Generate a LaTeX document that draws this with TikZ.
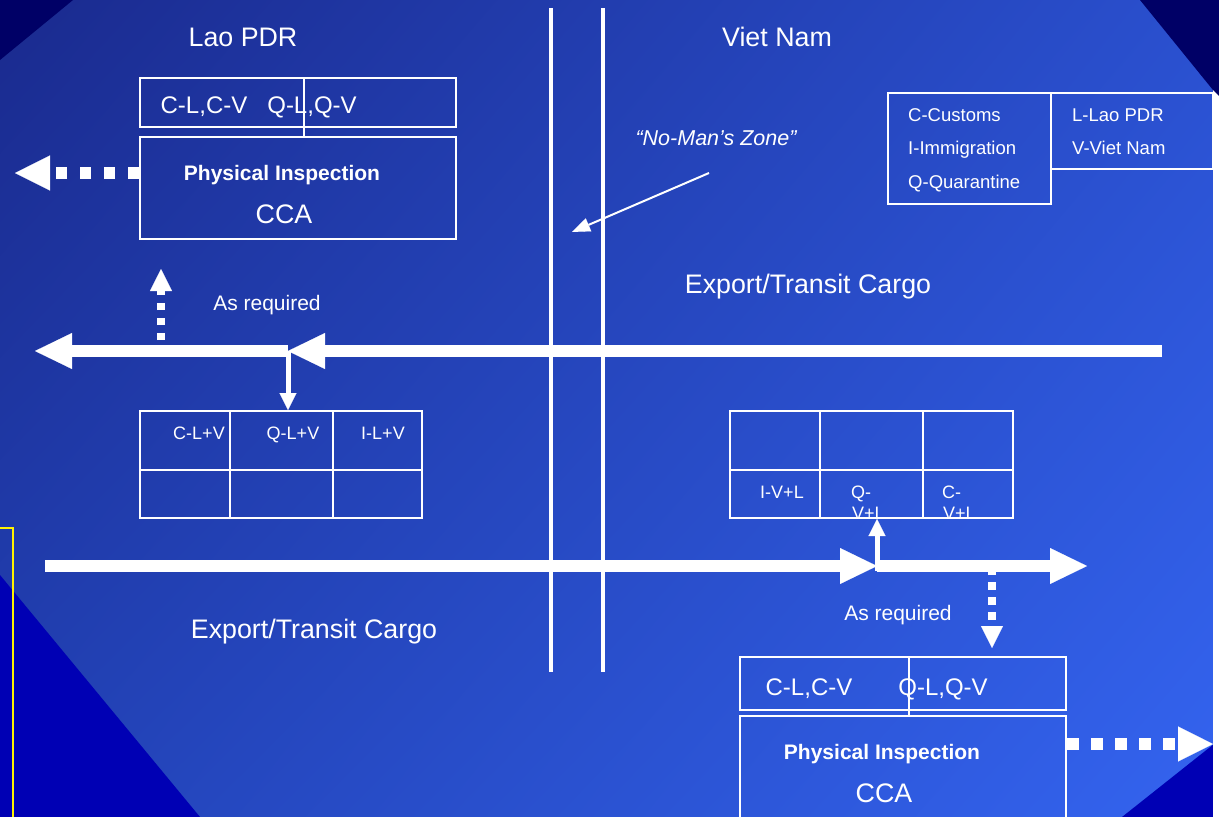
\documentclass[tikz,border=0pt]{standalone}
\usepackage{fontspec}
\setmainfont{Liberation Sans}
\usetikzlibrary{arrows.meta,shadings}
\definecolor{bgTL}{HTML}{1A2A8E}
\definecolor{bgTR}{HTML}{2A50CF}
\definecolor{bgBL}{HTML}{2242B6}
\definecolor{bgBR}{HTML}{3464F0}
\definecolor{navy}{HTML}{000066}
\definecolor{royal}{HTML}{0000B4}
\tikzset{
  box/.style={draw=white, line width=2pt, inner sep=0pt},
  txt/.style={text=white, inner sep=0pt, anchor=base},
  fbig/.style={font=\fontsize{26.8}{30}\selectfont},
  fmid/.style={font=\fontsize{24}{28}\selectfont},
  fbold/.style={font=\fontsize{21}{25}\selectfont\bfseries},
  freq/.style={font=\fontsize{21}{25}\selectfont},
  fsmall/.style={font=\fontsize{18}{21}\selectfont},
  fleg/.style={font=\fontsize{18.5}{21}\selectfont},
  bigbar/.style={draw=white, line width=12pt, line cap=butt,
    -{Triangle[length=37pt,width=36pt,line width=0.1pt]}},
  dotbig/.style={draw=white, line width=12pt, line cap=butt, dash pattern=on 11pt off 13pt,
    -{Triangle[length=35pt,width=35pt,line width=0.1pt]}},
  dotsmall/.style={draw=white, line width=8pt, line cap=butt, dash pattern=on 7.5pt off 7.5pt,
    -{Triangle[length=22pt,width=22pt,line width=0.1pt]}},
  thinarrow/.style={draw=white, line width=5pt, line cap=butt,
    -{Triangle[length=17pt,width=17pt,line width=0.1pt]}},
  grid/.style={draw=white, line width=2pt},
  border/.style={draw=white, line width=4pt},
}
\begin{document}
\begin{tikzpicture}[x=1pt,y=-1pt]
\useasboundingbox (0,0) rectangle (1219,817);
\clip (0,0) rectangle (1219,817);
% background
\shade[upper left=bgTL, upper right=bgTR, lower left=bgBL, lower right=bgBR] (0,0) rectangle (1219,817);
\fill[navy] (0,0) -- (73,0) -- (0,60) -- cycle;
\fill[royal] (0,575) -- (200,817) -- (0,817) -- cycle;
\fill[royal] (1122,817) -- (1219,740) -- (1219,817) -- cycle;
\fill[white] (1213,90) rectangle (1220,818);
\fill[navy] (1140,0) -- (1220,0) -- (1220,97) -- (1213,90) -- cycle;
\draw[yellow, line width=2.5pt] (-5,528) -- (13,528) -- (13,822);

% border lines
\coordinate (bl1t) at (551,8); \coordinate (bl1b) at (551,672);
\coordinate (bl2t) at (603,8); \coordinate (bl2b) at (603,672);
\draw[border] (bl1t) -- (bl1b);
\draw[border] (bl2t) -- (bl2b);

% titles
\node[txt,fbig] (lao) at (243,46) {Lao PDR};
\node[txt,fbig] (vn) at (777,46) {Viet Nam};

% top-left inspection boxes
\node[box, minimum width=316pt, minimum height=49pt] (tlc) at (298,102.5) {};
\node[box, minimum width=316pt, minimum height=102pt] (tli) at (298,188) {};
\draw[grid] (304,78) -- (304,137);
\node[txt,fmid] (tlc1) at (204,113) {C-L,C-V};
\node[txt,fmid] (tlc2) at (312,113) {Q-L,Q-V};
\node[txt,fbold] (tlp) at (282,180) {Physical Inspection};
\node[txt,fbig] (tlcca) at (284,223) {CCA};

% bottom-right inspection boxes
\node[box, minimum width=326pt, minimum height=53pt] (brc) at (903,683.5) {};
\node[box, minimum width=326pt, minimum height=114pt] (bri) at (903,773) {};
\draw[grid] (909,656) -- (909,716);
\node[txt,fmid] (brc1) at (809,695) {C-L,C-V};
\node[txt,fmid] (brc2) at (943,695) {Q-L,Q-V};
\node[txt,fbold] (brp) at (882,759) {Physical Inspection};
\node[txt,fbig] (brcca) at (884,802) {CCA};

% legend
\node[box, minimum width=163pt, minimum height=111pt] (leg1) at (969.5,148.5) {};
\node[box, minimum width=162pt, minimum height=76pt] (leg2) at (1132,131) {};
\node[txt,fleg,anchor=base west] (lc) at (908,121) {C-Customs};
\node[txt,fleg,anchor=base west] (li) at (908,154) {I-Immigration};
\node[txt,fleg,anchor=base west] (lq) at (908,188) {Q-Quarantine};
\node[txt,fleg,anchor=base west] (ll) at (1072,121) {L-Lao PDR};
\node[txt,fleg,anchor=base west] (lv) at (1072,154) {V-Viet Nam};

% no-man's zone
\node[txt,font=\fontsize{21.5}{25}\selectfont\itshape] (nmz) at (716,145) {“No-Man’s Zone”};
\coordinate (nmzS) at (709,173);
\coordinate (nmzT) at (572,232);
\draw[white, line width=2pt, -{Triangle[length=18pt,width=14pt,line width=0.1pt]}] (nmzS) -- (nmzT);

% cargo labels
\node[txt,fbig] (ex1) at (808,293.5) {Export/Transit Cargo};
\node[txt,fbig] (ex2) at (314,638.5) {Export/Transit Cargo};
\node[txt,freq] (ar1) at (267,310.5) {As required};
\node[txt,freq] (ar2) at (898,620) {As required};

% left table
\node[box, minimum width=282pt, minimum height=107pt] (ltab) at (281,464.5) {};
\draw[grid] (140,470) -- (422,470);
\draw[grid] (230,411) -- (230,518);
\draw[grid] (333,411) -- (333,518);
\node[txt,fsmall] (lt1) at (199,439) {C-L+V};
\node[txt,fsmall] (lt2) at (293,439) {Q-L+V};
\node[txt,fsmall] (lt3) at (383,439) {I-L+V};

% right table
\node[box, minimum width=283pt, minimum height=107pt] (rtab) at (871.5,464.5) {};
\draw[grid] (730,470) -- (1013,470);
\draw[grid] (820,411) -- (820,518);
\draw[grid] (923,411) -- (923,518);
\node[txt,fsmall] (rt1) at (782,498) {I-V+L};
\node[txt,fsmall,anchor=base west] (rt2a) at (851,498) {Q-};
\node[txt,fsmall,anchor=base west] (rt2b) at (852,519) {V+L};
\node[txt,fsmall,anchor=base west] (rt3a) at (942,498) {C-};
\node[txt,fsmall,anchor=base west] (rt3b) at (943,519) {V+L};

% dotted arrows
\coordinate (tlT) at (15,173);
\draw[dotbig] (tli.west |- tlT) -- (tlT);
\coordinate (upS) at (161,340);
\coordinate (upT) at (161,269);
\draw[dotsmall] (upS) -- (upT);
\coordinate (dnS) at (992,567);
\coordinate (dnT) at (992,648);
\draw[dotsmall] (dnS) -- (dnT);
\coordinate (brT) at (1213,744);
\draw[dotbig, dash pattern=on 12pt off 12pt] (bri.east |- brT) -- (brT);

% top flow
\coordinate (tbR) at (1162,351);
\coordinate (tbM) at (288,351);
\coordinate (tbL) at (35,351);
\draw[bigbar] (tbR) -- (tbM);
\draw[bigbar] (tbM) -- (tbL);
\draw[thinarrow] (tbM) -- (ltab.north -| tbM);

% bottom flow
\coordinate (bbL) at (45,566);
\coordinate (bbM) at (877,566);
\coordinate (bbR) at (1087,566);
\draw[bigbar] (bbL) -- (bbM);
\draw[bigbar] (bbM) -- (bbR);
\draw[thinarrow] ([yshift=-5pt]bbM) -- (rtab.south -| bbM);
\end{tikzpicture}
\end{document}
